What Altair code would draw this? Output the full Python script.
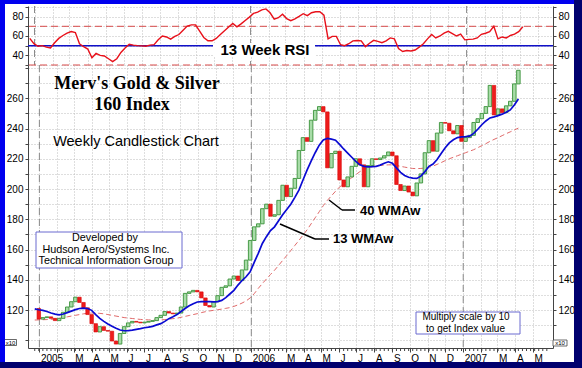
import altair as alt
import pandas as pd

# ---------------- data ----------------
# weekly candles (first week ending 2004-12-31), values in index/10
candle_open = [121, 114, 115, 115.5, 114.5, 113, 114.5, 118.5, 122, 125.5,
               128.5, 125, 121.5, 117, 111, 105.5, 109, 106.5, 106, 99.5,
               97.5, 104.5, 109, 111.5, 112.5, 112, 111.5, 112, 112.5, 113,
               115, 116.5, 119, 118, 117.5, 118, 122, 131, 132, 133,
               132, 128, 123, 122, 125.5, 129.5, 135, 136, 140.5, 142.5,
               139.5, 146.5, 153, 166, 175, 177, 187, 190, 182, 183,
               192.5, 202.5, 195, 200.5, 207, 225.5, 234, 231.5, 245.5, 252,
               254.5, 251, 214, 223.5, 225, 206, 201.5, 208, 215, 220,
               216, 201.5, 215.5, 220, 219.5, 220.5, 222, 224.5, 222, 203,
               199, 202, 198, 195.5, 204, 210, 224, 232, 225, 237,
               244, 243.5, 238.5, 236.5, 242, 231.5, 234, 235.5, 244, 246.5,
               250, 254.5, 268.5, 249, 253, 250.5, 255, 258, 269.5]
candle_close = [114, 115, 115.5, 114.5, 113, 114.5, 118.5, 122, 125.5, 128.5,
                125, 121.5, 117, 111, 105.5, 109, 106.5, 106, 99.5, 97.5,
                104.5, 109, 111.5, 112.5, 112, 111.5, 112, 112.5, 113, 115,
                116.5, 119, 118, 117.5, 118, 122, 131, 132, 133, 132,
                128, 123, 122, 125.5, 129.5, 135, 136, 140.5, 142.5, 139.5,
                146.5, 153, 166, 175, 177, 187, 190, 182, 183, 192.5,
                202.5, 195, 200.5, 207, 225.5, 234, 231.5, 245.5, 252, 254.5,
                251, 214, 223.5, 225, 206, 201.5, 208, 215, 220, 216,
                201.5, 215.5, 220, 219.5, 220.5, 222, 224.5, 222, 203, 199,
                202, 198, 195.5, 204, 210, 224, 232, 225, 237, 244,
                243.5, 238.5, 236.5, 242, 231.5, 234, 235.5, 244, 246.5, 250,
                254.5, 268.5, 249, 253, 250.5, 255, 258, 269.5, 278.5]

# weekly indicator lines (first week ending 2004-12-24)
rsi_13wk = [57.5,
            52, 49.4, 50, 48.5, 47.6, 53, 57.5, 60.5, 63, 64.6,
            63.5, 52, 48.9, 46.5, 37.5, 42, 40, 39.3, 36.5, 33.5,
            36.5, 43, 47.5, 51.5, 50.5, 50, 49.8, 49.4, 50.5, 51,
            56, 60, 59, 56.8, 59.5, 61.5, 66, 70.3, 71.5, 71.5,
            65, 58.5, 55, 55, 57.5, 61.5, 65.5, 69.3, 73, 69.4,
            72.5, 76, 79.5, 83.3, 84.7, 87, 88, 84, 77.5, 78.9,
            82.5, 78, 75.8, 77.7, 80.2, 83, 81, 84, 85, 85.2,
            81.5, 57, 59.6, 59.6, 51, 50, 52, 55, 55.4, 55,
            49, 52.5, 55.5, 54.5, 53, 55, 58, 57, 47, 44,
            45, 44.5, 45.5, 48.5, 52, 57, 61.5, 58, 60, 63,
            64.8, 62.5, 60, 62, 56, 56.5, 56.8, 58, 61.7, 62.8,
            64.5, 70, 57, 59, 58, 60.5, 62, 64.5, 69.5]
wma_13 = [120.8,
          120.2, 119.8, 119, 118, 117.3, 116.8, 117.4, 118.3, 119.3, 120.3,
          121, 121.2, 121, 119.8, 117, 114.5, 112.5, 110.8, 109.3, 108,
          106.8, 106.3, 106.4, 106.7, 107.2, 107.7, 108.3, 108.7, 109.2, 110.2,
          111, 112.5, 114.3, 115.5, 117, 119, 121, 122.8, 124.2, 125.3,
          125.6, 125.6, 125.5, 125.4, 125.6, 126.4, 128.2, 130.6, 133, 136.5,
          139.5, 142, 145.3, 151.5, 157.5, 164, 168.5, 172.5, 175, 179,
          183, 186.5, 190, 194.5, 199.3, 206, 212.5, 218.5, 224, 229,
          232.5, 233.5, 233, 232.3, 229.5, 226.5, 223.8, 221, 218.3, 216,
          215, 214.7, 214.8, 215, 215.8, 217, 218, 217, 214, 211,
          209, 207.8, 207.2, 207, 208.5, 211.5, 215, 216.5, 219.5, 223.5,
          227.3, 230.5, 232.6, 234, 234.5, 234.6, 235, 236.8, 239.5, 242.5,
          245, 247, 247.7, 248.5, 249.5, 250.7, 252.3, 255.5, 259.5]
wma_40 = [113.4,
          113.5, 113.6, 113.7, 113.9, 114.1, 114.5, 115, 115.5, 116, 116.5,
          117, 117.5, 117.8, 118, 118, 117.8, 117.5, 117, 116.5, 116,
          115.5, 115, 114.7, 114.4, 114.1, 113.8, 113.6, 113.5, 113.4, 113.4,
          113.5, 113.7, 114, 114.3, 114.6, 115.2, 115.8, 116.4, 117, 117.6,
          118.3, 118.9, 119.4, 119.8, 120.2, 120.6, 121.1, 121.6, 122.4, 123.4,
          124.6, 126, 128, 130.8, 134.3, 137.5, 140.5, 143.5, 146.3, 149.5,
          152.8, 156, 159.3, 162.7, 166, 169.5, 173, 177, 181, 185,
          189, 192.5, 195.5, 198.5, 201.3, 203.5, 205.5, 207.5, 209.5, 211.5,
          213, 214, 214.8, 215.3, 215.6, 215.8, 216, 216, 215.6, 215,
          214.5, 214, 213.6, 213.5, 213.6, 213.9, 214.4, 215.2, 216.3, 217.5,
          218.8, 220, 221, 222, 223, 224, 225, 226, 227.3, 228.7,
          230, 231.5, 232.8, 234, 235.3, 236.6, 237.8, 239, 240.3]

rsi_bands = [30, 70]
rsi_mid = [50]
year_starts = ["2005-01-01", "2006-01-01", "2007-01-01"]

# ---------------- tables ----------------
candle_dates = pd.date_range("2004-12-31", periods=len(candle_close), freq="7D").strftime("%Y-%m-%d")
line_dates = pd.date_range("2004-12-24", periods=len(rsi_13wk), freq="7D").strftime("%Y-%m-%d")
tick_dates = pd.date_range("2004-12-24", "2007-05-25", freq="7D").strftime("%Y-%m-%d")
month_starts = pd.date_range("2005-01-01", "2007-05-01", freq="MS")

candles = pd.DataFrame({"date": candle_dates, "open": candle_open, "close": candle_close})
candles["dir"] = ["up" if c >= o else "down" for o, c in zip(candle_open, candle_close)]
lines = pd.DataFrame({"date": line_dates, "rsi": rsi_13wk, "w13": wma_13, "w40": wma_40})
years = pd.DataFrame({"date": year_starts})
ticks = pd.DataFrame({"date": tick_dates})
one = pd.DataFrame({"k": [0]})

W, H_R, H_P = 525, 59, 283
FONT = "Liberation Sans"
GRID = "#bdbdbd"
AX = "#444444"


def dt(t):
    return alt.DateTime(year=int(t.year), month=int(t.month), date=int(t.day), utc=True)


month_vals = [dt(t) for t in month_starts]
xscale = alt.Scale(type="utc", domain=[alt.DateTime(year=2004, month=12, date=21, utc=True),
                                       alt.DateTime(year=2007, month=5, date=27, utc=True)])
lab = ("utcmonth(datum.value) == 0 ? utcFormat(datum.value, '%Y') : "
       "(utcmonth(datum.value) == 1 ? '' : substring(utcFormat(datum.value, '%b'), 0, 1))")

xaxis_p = alt.Axis(values=month_vals, labelExpr=lab, labelAlign="left", labelOffset=1,
                   labelPadding=1, labelFontSize=10, labelFont=FONT, labelColor="black",
                   tickSize=4, tickColor=AX, domainColor=AX, grid=True, gridColor=GRID,
                   gridDash=[1, 2], title=None, labelOverlap=False, labelFlush=False,
                   labelBound=False)
xaxis_r = alt.Axis(values=month_vals, labels=False, ticks=False, domain=False, grid=True,
                   gridColor=GRID, gridDash=[1, 2], title=None)


def XP():
    return alt.X("date:T", scale=xscale, axis=xaxis_p)


def XR():
    return alt.X("date:T", scale=xscale, axis=xaxis_r)


# ---------------- price panel ----------------
yscale_p = alt.Scale(domain=[94.9, 282], nice=False, zero=False)
yvals_p = list(range(100, 290, 10))
ylab_p = "datum.value % 20 == 0 && datum.value >= 120 && datum.value <= 260 ? datum.label : ''"
common_y = dict(values=yvals_p, labelExpr=ylab_p, tickSize=3, labelPadding=2,
                domainColor=AX, tickColor=AX, labelFontSize=10, labelFont=FONT,
                labelColor="black", title=None, minExtent=23, maxExtent=23)
yaxis_pl = alt.Axis(orient="left", grid=True, gridColor=GRID, gridDash=[1, 2], **common_y)
yaxis_pr = alt.Axis(orient="right", grid=False, **common_y)

year_p = alt.Chart(years).mark_rule(color="#8a8a8a", strokeDash=[7, 4], strokeWidth=1).encode(x=XP())
week_ticks = alt.Chart(ticks).mark_rule(color=AX, strokeWidth=1).encode(
    x=XP(), y=alt.value(H_P), y2=alt.value(H_P + 3))
w40 = alt.Chart(lines).mark_line(color="#e06a6a", strokeDash=[5, 3], strokeWidth=1).encode(
    x=XP(), y=alt.Y("w40:Q", scale=yscale_p, axis=yaxis_pl))
up = alt.Chart(candles).transform_filter("datum.dir == 'up'").mark_bar(
    size=3.5, fill="#a8dca8", stroke="#3a923a", strokeWidth=0.9).encode(
    x=XP(), y=alt.Y("open:Q", scale=yscale_p, axis=yaxis_pr), y2="close:Q")
down = alt.Chart(candles).transform_filter("datum.dir == 'down'").mark_bar(
    size=3.5, fill="#ee1c1c", stroke="#d80000", strokeWidth=0.6).encode(
    x=XP(), y=alt.Y("open:Q", scale=yscale_p, axis=None), y2="close:Q")
w13 = alt.Chart(lines).mark_line(color="#0a0ad2", strokeWidth=1.7).encode(
    x=XP(), y=alt.Y("w13:Q", scale=yscale_p, axis=None))


def txt(s, x, y, size, weight="normal", font=FONT, align="center", color="black"):
    return alt.Chart(one).mark_text(text=s, font=font, fontSize=size, fontWeight=weight,
                                    align=align, baseline="middle", color=color).encode(
        x=alt.value(x), y=alt.value(y))


def box(x1, x2, y1, y2, stroke="#6a6ad0", fill="white", sw=1):
    return alt.Chart(one).mark_rect(fill=fill, stroke=stroke, strokeWidth=sw).encode(
        x=alt.value(x1), x2=alt.value(x2), y=alt.value(y1), y2=alt.value(y2))


def seg(x1, y1, x2, y2, color="black", sw=1.5):
    return alt.Chart(one).mark_rule(color=color, strokeWidth=sw).encode(
        x=alt.value(x1), y=alt.value(y1), x2=alt.value(x2), y2=alt.value(y2))


annot = [
    txt("Merv's Gold & Silver", 109, 19, 18, "bold", "Liberation Serif"),
    txt("160 Index", 104, 40, 18, "bold", "Liberation Serif"),
    txt("Weekly Candlestick Chart", 108, 77, 14.5),
    box(8, 154, 167, 203),
    txt("Developed by", 77, 173, 10.8),
    txt("Hudson Aero/Systems Inc.", 78, 185, 10.8),
    txt("Technical Information Group", 78, 196, 10.8),
    box(388, 492, 247, 269),
    txt("Multiply scale by 10", 438, 251.5, 10),
    txt("to get Index value", 437.5, 264, 10),
    seg(301, 135, 314, 145), seg(314, 145, 327, 145),
    txt("40 WMAw", 332, 145.5, 13, "bold", align="left"),
    seg(252, 159, 287, 174), seg(287, 174, 301, 174),
    txt("13 WMAw", 305, 174, 13, "bold", align="left"),
    box(-23.5, -11.5, 274.5, 280.5, stroke=AX, sw=0.8),
    txt("x10", -17.5, 277.5, 6),
    box(525, 539, 275, 281, stroke=AX, sw=0.8),
    txt("x10", 532, 278, 6),
]

frame = [
    box(-28, -23, -65, 303, stroke="#0000ee", fill="#0000ee", sw=0),
    box(-28, 554, -65, -61, stroke="#0000ee", fill="#0000ee", sw=0),
    box(546, 554, -65, 303, stroke="#00006e", fill="#00006e", sw=0),
    box(-28, 554, 297, 303, stroke="#00006e", fill="#00006e", sw=0),
]

price = alt.layer(year_p, week_ticks, w40, up, down, w13, *annot, *frame).resolve_axis(
    y="independent").properties(width=W, height=H_P)

# ---------------- RSI panel ----------------
yscale_r = alt.Scale(domain=[30, 91], nice=False, zero=False)
ylab_r = "datum.value == 40 || datum.value == 60 || datum.value == 80 ? datum.label : ''"
common_r = dict(values=[30, 40, 50, 60, 70, 80, 90], labelExpr=ylab_r, tickSize=3,
                labelPadding=2, domainColor=AX, tickColor=AX, labelFontSize=10,
                labelFont=FONT, labelColor="black", title=None, minExtent=23, maxExtent=23)
yaxis_rl = alt.Axis(orient="left", grid=True, gridColor=GRID, gridDash=[1, 2], **common_r)
yaxis_rr = alt.Axis(orient="right", grid=False, **common_r)

year_r = alt.Chart(years).mark_rule(color="#8a8a8a", strokeDash=[7, 4], strokeWidth=1).encode(x=XR())
bands = alt.Chart(pd.DataFrame({"level": rsi_bands})).mark_rule(
    color="#d84a4a", strokeDash=[7, 4], strokeWidth=1).encode(
    y=alt.Y("level:Q", scale=yscale_r, axis=yaxis_rl))
mid = alt.Chart(pd.DataFrame({"level": rsi_mid})).mark_rule(
    color="#1010c8", strokeWidth=1.5).encode(
    y=alt.Y("level:Q", scale=yscale_r, axis=yaxis_rr))
rsi_line = alt.Chart(lines).mark_line(color="#e8101a", strokeWidth=1.4).encode(
    x=XR(), y=alt.Y("rsi:Q", scale=yscale_r, axis=None))

rsi = alt.layer(year_r, bands, mid, box(185, 287, 37, 51, stroke="white", sw=0),
                txt("13 Week RSI", 237, 44, 15, "bold"), rsi_line).resolve_axis(
    y="independent").properties(width=W, height=H_R)

chart = alt.vconcat(rsi, price, spacing=0, bounds="flush").resolve_scale(
    x="independent", y="independent").properties(padding=0, background="white").configure_view(
    stroke=None)

chart.save("out.html", embed_options={"renderer": "svg", "actions": False})
